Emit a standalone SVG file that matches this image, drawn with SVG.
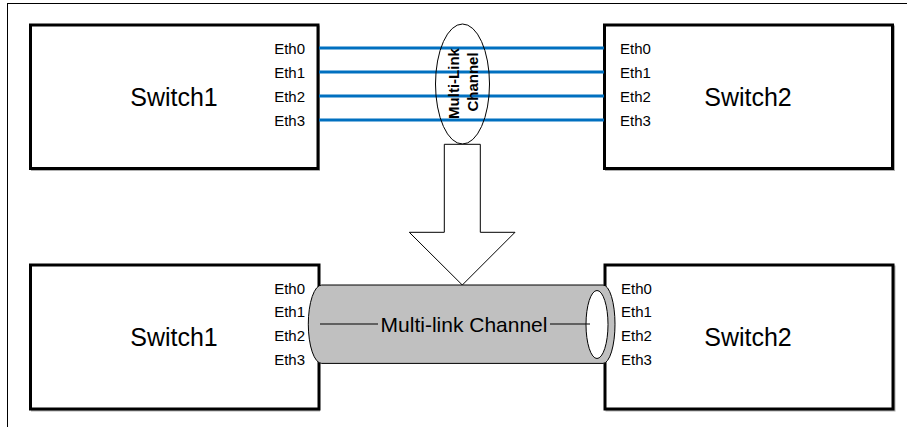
<svg xmlns="http://www.w3.org/2000/svg" width="907" height="427" viewBox="0 0 907 427">
<style>
.box{fill:#fff;stroke:#000;stroke-width:3}
.shadow{fill:none;stroke:#b0b0b0;stroke-width:2}
.eth{font-family:"Liberation Sans",Arial,sans-serif;font-size:15px;fill:#000}
.sw{font-family:"Liberation Sans",Arial,sans-serif;font-size:25px;fill:#000;text-anchor:middle}
.link{stroke:#0070C0;stroke-width:3;fill:none}
.thin{stroke:#000;stroke-width:1;fill:none}
.vt{font-family:"Liberation Sans",Arial,sans-serif;font-size:15px;font-weight:bold;fill:#000;text-anchor:middle}
</style>
<rect width="907" height="427" fill="#fff"/>
<g id="frame">
<line x1="7" y1="3.5" x2="907" y2="3.5" class="thin"/>
<line x1="7.5" y1="3" x2="7.5" y2="427" class="thin"/>
</g>
<g id="top-switch1">
<rect x="32" y="26.5" width="287" height="143.5" class="shadow"/>
<rect x="30.5" y="25" width="287.5" height="143.5" class="box"/>
<text x="174" y="105.5" class="sw">Switch1</text>
<text x="305" y="53.5" class="eth" text-anchor="end">Eth0</text>
<text x="305" y="77.5" class="eth" text-anchor="end">Eth1</text>
<text x="305" y="101.5" class="eth" text-anchor="end">Eth2</text>
<text x="305" y="125.5" class="eth" text-anchor="end">Eth3</text>
</g>
<g id="top-switch2">
<rect x="606" y="26.5" width="288" height="143.5" class="shadow"/>
<rect x="604.5" y="25" width="288" height="143.5" class="box"/>
<text x="748" y="105.5" class="sw">Switch2</text>
<text x="620" y="53.5" class="eth">Eth0</text>
<text x="620" y="77.5" class="eth">Eth1</text>
<text x="620" y="101.5" class="eth">Eth2</text>
<text x="620" y="125.5" class="eth">Eth3</text>
</g>
<g id="connectors">
<line x1="319" y1="48" x2="604" y2="48" class="link"/>
<line x1="319" y1="72" x2="604" y2="72" class="link"/>
<line x1="319" y1="96" x2="604" y2="96" class="link"/>
<line x1="319" y1="120" x2="604" y2="120" class="link"/>
</g>
<g id="channel-ellipse">
<ellipse cx="462.5" cy="84" rx="27" ry="60" class="thin"/>
<text transform="translate(459,83.5) rotate(-90)" class="vt">Multi-Link</text>
<text transform="translate(478,82) rotate(-90)" class="vt">Channel</text>
</g>
<g id="down-arrow">
<polygon points="444.3,144.3 480.3,144.3 480.3,232.3 515,232.3 462.3,285 409.3,232.3 444.3,232.3" fill="#fff" stroke="#000" stroke-width="1"/>
</g>
<g id="bottom-switch1">
<rect x="32" y="266.5" width="287" height="144" class="shadow"/>
<rect x="30.5" y="265" width="288.5" height="144" class="box"/>
<text x="174" y="345.5" class="sw">Switch1</text>
<text x="305" y="293.5" class="eth" text-anchor="end">Eth0</text>
<text x="305" y="317" class="eth" text-anchor="end">Eth1</text>
<text x="305" y="341" class="eth" text-anchor="end">Eth2</text>
<text x="305" y="364.7" class="eth" text-anchor="end">Eth3</text>
</g>
<g id="bottom-switch2">
<rect x="606.5" y="266.5" width="288" height="144" class="shadow"/>
<rect x="605" y="265" width="288" height="144" class="box"/>
<text x="748" y="345.5" class="sw">Switch2</text>
<text x="621" y="293.5" class="eth">Eth0</text>
<text x="621" y="317" class="eth">Eth1</text>
<text x="621" y="341" class="eth">Eth2</text>
<text x="621" y="364.7" class="eth">Eth3</text>
</g>
<g id="multilink-channel">
<path d="M321.7,285 H603 A12,39.2 0 0 1 603,363.4 H321.7 A13.4,39.2 0 0 1 321.7,285 Z" fill="#C0C0C0" stroke="#000" stroke-width="1"/>
<ellipse cx="597" cy="324.5" rx="11" ry="34" fill="#fff" stroke="#000" stroke-width="1"/>
<line x1="320" y1="324" x2="378" y2="324" class="thin"/>
<line x1="550" y1="324" x2="590" y2="324" class="thin"/>
<text x="464" y="331.5" font-family="'Liberation Sans',Arial,sans-serif" font-size="21" text-anchor="middle" fill="#000">Multi-link Channel</text>
</g>
</svg>
